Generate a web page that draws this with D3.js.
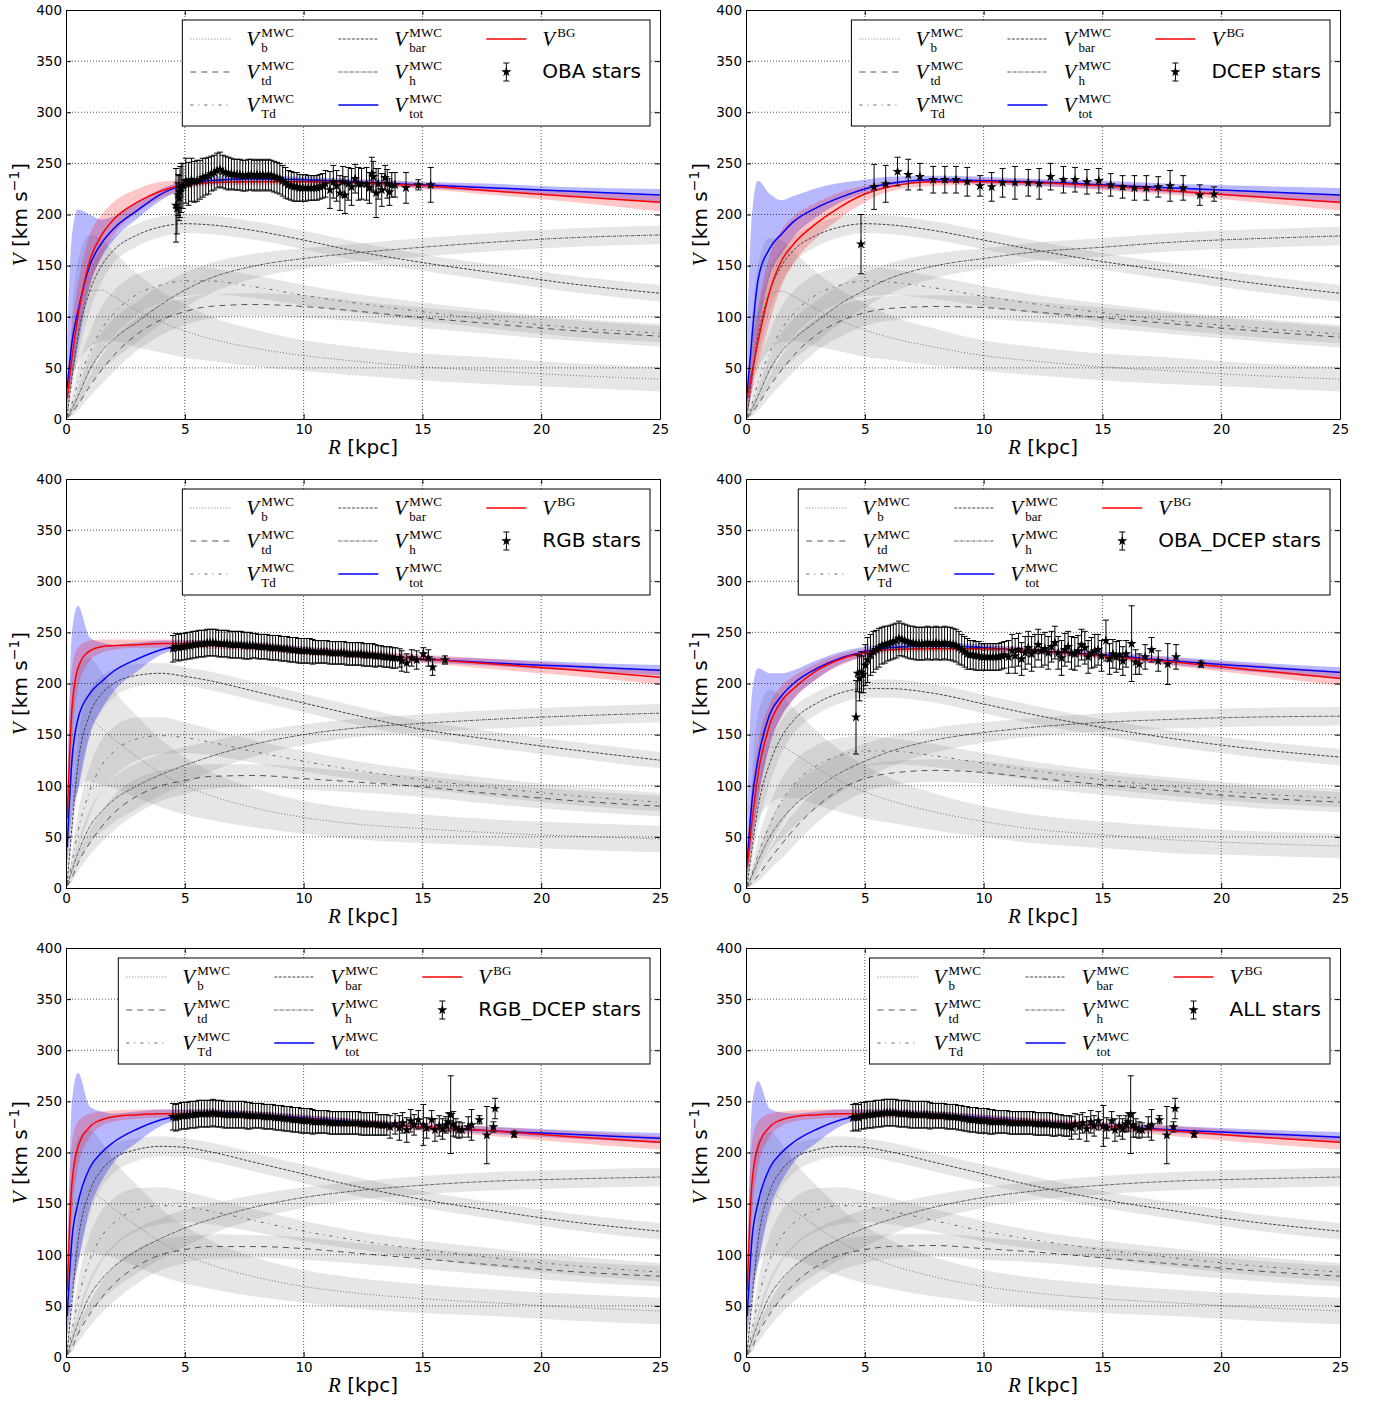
<!DOCTYPE html>
<html>
<head>
<meta charset="utf-8">
<script src="https://cdn.jsdelivr.net/npm/d3@7"></script>
<style>
  body { margin: 0; background: #fff; }
  svg { display: block; }
</style>
</head>
<body>
<svg id="fig" width="1376" height="1401"></svg>
<script>
// ---------------------------------------------------------------
// Rotation-curve decomposition for six tracer samples
// ---------------------------------------------------------------
const PANEL_LABELS = ["OBA stars", "DCEP stars", "RGB stars", "OBA_DCEP stars", "RGB_DCEP stars", "ALL stars"];

const X_TICKS = [0, 5, 10, 15, 20, 25];
const Y_TICKS = [0, 50, 100, 150, 200, 250, 300, 350, 400];

// Galactocentric radii (kpc) at which the model curves are tabulated
const R_GRID = [0.05, 0.25, 0.5, 1, 1.5, 2, 3, 4, 5, 6, 8, 10, 12, 15, 18, 21, 25];

// Model components (km/s), one row per sample in PANEL_LABELS order
const V_b = [
  [8, 70, 105, 125, 126, 120, 106, 95, 86, 79, 69, 62, 57, 51, 47, 43, 39],
  [8, 65, 100, 122, 125, 120, 107, 96, 87, 80, 70, 62, 57, 51, 47, 43, 39],
  [30, 120, 158, 165, 156, 146, 128, 112, 100, 91, 78, 69, 63, 58, 54, 51, 48],
  [10, 80, 118, 138, 138, 132, 117, 104, 94, 86, 74, 65, 58, 52, 47, 44, 41],
  [25, 115, 155, 162, 155, 145, 128, 112, 100, 91, 78, 69, 63, 57, 53, 49, 45],
  [25, 112, 152, 160, 154, 144, 127, 112, 100, 91, 78, 69, 63, 57, 53, 49, 45]
];
const V_b_err = [
  [4, 30, 50, 55, 50, 44, 36, 30, 26, 22, 18, 15, 14, 13, 13, 12, 12],
  [4, 30, 50, 55, 50, 44, 36, 30, 26, 22, 18, 15, 14, 13, 13, 12, 12],
  [10, 50, 60, 60, 55, 48, 40, 33, 28, 24, 19, 16, 15, 14, 13, 13, 13],
  [5, 32, 52, 56, 50, 44, 36, 30, 26, 22, 18, 15, 14, 13, 13, 12, 12],
  [10, 50, 60, 60, 55, 48, 40, 33, 28, 24, 19, 16, 15, 14, 13, 13, 13],
  [10, 50, 60, 60, 55, 48, 40, 33, 28, 24, 19, 16, 15, 14, 13, 13, 13]
];

const V_td = [
  [1, 6, 14, 32, 48, 62, 83, 97, 105, 110, 112, 110, 106, 99, 93, 87, 81],
  [1, 6, 14, 32, 48, 62, 83, 96, 104, 108, 110, 109, 105, 99, 93, 87, 80],
  [2, 10, 24, 44, 60, 73, 90, 100, 105, 109, 110, 107, 104, 99, 92, 86, 80],
  [1, 5, 12, 28, 43, 57, 80, 97, 107, 112, 115, 113, 108, 101, 95, 89, 84],
  [2, 9, 22, 42, 58, 71, 89, 100, 105, 108, 108, 106, 102, 96, 90, 84, 79],
  [2, 9, 22, 42, 58, 71, 89, 100, 105, 108, 109, 106, 103, 97, 91, 85, 79]
];
const V_td_err = [
  [1, 3, 6, 10, 14, 16, 16, 15, 13, 12, 11, 11, 10, 10, 10, 10, 10],
  [1, 3, 6, 10, 14, 16, 16, 15, 13, 12, 11, 11, 10, 10, 10, 10, 10],
  [1, 4, 8, 12, 15, 17, 17, 15, 13, 12, 11, 11, 10, 10, 10, 10, 10],
  [1, 3, 6, 10, 14, 16, 16, 15, 13, 12, 11, 11, 10, 10, 10, 10, 10],
  [1, 4, 8, 12, 15, 17, 17, 15, 13, 12, 11, 11, 10, 10, 10, 10, 10],
  [1, 4, 8, 12, 15, 17, 17, 15, 13, 12, 11, 11, 10, 10, 10, 10, 10]
];

const V_Td = [
  [2, 15, 35, 65, 88, 103, 122, 131, 135, 135, 129, 121, 114, 105, 97, 90, 84],
  [2, 15, 35, 65, 88, 103, 122, 131, 135, 134, 128, 120, 113, 104, 96, 90, 83],
  [3, 25, 55, 95, 120, 133, 146, 149, 147, 143, 133, 124, 116, 106, 98, 91, 84],
  [2, 14, 32, 62, 85, 101, 120, 130, 134, 134, 129, 122, 115, 106, 99, 93, 88],
  [3, 25, 55, 95, 118, 131, 144, 148, 147, 143, 133, 123, 115, 105, 97, 90, 83],
  [3, 25, 55, 95, 118, 131, 144, 148, 147, 143, 133, 123, 115, 105, 97, 90, 83]
];
const V_Td_err = [
  [1, 8, 15, 20, 22, 22, 20, 17, 15, 13, 11, 10, 9, 9, 9, 9, 9],
  [1, 8, 15, 20, 22, 22, 20, 17, 15, 13, 11, 10, 9, 9, 9, 9, 9],
  [1, 10, 18, 24, 25, 24, 21, 18, 15, 13, 11, 10, 9, 9, 9, 9, 9],
  [1, 8, 15, 20, 22, 22, 20, 17, 15, 13, 11, 10, 9, 9, 9, 9, 9],
  [1, 10, 18, 24, 25, 24, 21, 18, 15, 13, 11, 10, 9, 9, 9, 9, 9],
  [1, 10, 18, 24, 25, 24, 21, 18, 15, 13, 11, 10, 9, 9, 9, 9, 9]
];

const V_bar = [
  [3, 40, 80, 125, 150, 165, 180, 188, 191, 190, 184, 175, 165, 153, 143, 133, 123],
  [3, 40, 80, 125, 150, 165, 180, 188, 191, 190, 184, 175, 166, 154, 144, 134, 123],
  [5, 60, 120, 170, 190, 200, 208, 210, 207, 203, 192, 181, 170, 155, 145, 136, 125],
  [3, 38, 78, 122, 148, 164, 181, 191, 195, 195, 190, 180, 170, 157, 146, 137, 128],
  [5, 55, 112, 162, 183, 194, 203, 206, 205, 201, 190, 179, 168, 154, 143, 133, 123],
  [5, 55, 112, 162, 183, 194, 203, 206, 205, 201, 190, 179, 168, 154, 143, 133, 123]
];
const V_bar_err = [
  [2, 12, 20, 20, 16, 13, 11, 10, 9, 9, 9, 9, 9, 8, 8, 8, 8],
  [2, 12, 20, 20, 16, 13, 11, 10, 9, 9, 9, 9, 9, 8, 8, 8, 8],
  [2, 15, 24, 22, 17, 14, 11, 10, 9, 9, 9, 9, 9, 8, 8, 8, 8],
  [2, 12, 20, 20, 16, 13, 11, 10, 9, 9, 9, 9, 9, 8, 8, 8, 8],
  [2, 15, 24, 22, 17, 14, 11, 10, 9, 9, 9, 9, 9, 8, 8, 8, 8],
  [2, 15, 24, 22, 17, 14, 11, 10, 9, 9, 9, 9, 9, 8, 8, 8, 8]
];

const V_h = [
  [2, 10, 22, 48, 66, 78, 95, 112, 126, 137, 150, 157, 162, 168, 173, 177, 180],
  [2, 10, 22, 48, 66, 78, 96, 113, 126, 137, 150, 157, 163, 168, 173, 176, 179],
  [3, 17, 34, 60, 75, 86, 100, 111, 120, 128, 141, 150, 156, 161, 165, 168, 171],
  [2, 12, 26, 50, 67, 80, 98, 113, 124, 133, 145, 152, 157, 162, 165, 167, 168],
  [3, 16, 33, 60, 76, 88, 104, 116, 126, 134, 147, 156, 162, 168, 172, 174, 176],
  [3, 16, 33, 60, 76, 88, 104, 116, 126, 134, 147, 156, 162, 168, 172, 174, 176]
];
const V_h_err = [
  [1, 4, 8, 14, 18, 20, 20, 19, 17, 15, 12, 10, 9, 9, 9, 9, 9],
  [1, 4, 8, 14, 18, 20, 20, 19, 17, 15, 12, 10, 9, 9, 9, 9, 9],
  [1, 5, 10, 16, 20, 22, 22, 20, 18, 15, 12, 10, 9, 9, 9, 9, 9],
  [1, 4, 8, 14, 18, 20, 20, 19, 17, 15, 12, 10, 9, 9, 9, 9, 9],
  [1, 5, 10, 16, 20, 22, 22, 20, 18, 15, 12, 10, 9, 9, 9, 9, 9],
  [1, 5, 10, 16, 20, 22, 22, 20, 18, 15, 12, 10, 9, 9, 9, 9, 9]
];

// Total model curve and its confidence envelope
const V_tot = [
  [30, 75, 105, 150, 172, 186, 204, 220, 229, 233, 235, 234, 232, 229, 226, 223, 219],
  [25, 80, 135, 167, 181, 193, 207, 217, 225, 230, 234, 233, 232, 229, 226, 223, 219],
  [40, 125, 165, 190, 202, 212, 224, 233, 238, 239, 237, 233, 229, 224, 220, 217, 213],
  [25, 85, 125, 170, 188, 200, 215, 225, 231, 235, 237, 235, 232, 228, 222, 217, 211],
  [40, 115, 150, 185, 200, 210, 223, 232, 237, 239, 237, 234, 230, 225, 221, 218, 214],
  [40, 115, 150, 185, 200, 210, 223, 232, 237, 239, 237, 234, 230, 226, 222, 219, 215]
];
const V_tot_lo = [
  [15, 40, 70, 130, 158, 175, 196, 214, 225, 230, 232, 231, 229, 226, 222, 218, 212],
  [5, 30, 80, 140, 162, 178, 198, 212, 221, 227, 231, 230, 228, 225, 221, 217, 211],
  [20, 70, 95, 150, 175, 192, 212, 228, 235, 236, 234, 230, 226, 221, 217, 213, 208],
  [10, 45, 85, 140, 168, 185, 205, 219, 227, 232, 234, 232, 229, 225, 218, 212, 205],
  [20, 60, 90, 145, 172, 190, 210, 226, 233, 236, 234, 231, 227, 222, 218, 214, 209],
  [20, 60, 90, 145, 172, 190, 210, 226, 233, 236, 234, 231, 227, 223, 219, 215, 210]
];
const V_tot_hi = [
  [80, 180, 205, 200, 195, 198, 212, 225, 233, 237, 238, 237, 235, 232, 230, 227, 225],
  [90, 200, 233, 220, 214, 218, 226, 231, 234, 237, 238, 237, 235, 233, 230, 228, 226],
  [70, 250, 276, 245, 240, 238, 240, 242, 242, 242, 240, 236, 232, 227, 224, 221, 218],
  [80, 190, 215, 210, 210, 213, 223, 231, 236, 239, 240, 238, 235, 231, 226, 221, 216],
  [70, 250, 278, 245, 240, 238, 240, 242, 242, 242, 240, 237, 233, 228, 225, 222, 219],
  [70, 245, 270, 243, 239, 238, 240, 242, 242, 242, 240, 237, 233, 229, 226, 223, 220]
];

// Fitted rotation curve and its confidence envelope
const V_BG = [
  [20, 60, 100, 155, 180, 195, 212, 223, 229, 231, 232, 232, 231, 228, 223, 218, 212],
  [20, 45, 75, 125, 155, 171, 192, 208, 220, 227, 232, 232, 231, 228, 223, 218, 212],
  [68, 175, 215, 232, 236, 237, 238, 239, 239, 238, 236, 232, 229, 224, 219, 214, 206],
  [20, 65, 110, 160, 183, 195, 213, 224, 230, 233, 234, 234, 232, 227, 221, 214, 205],
  [65, 170, 205, 225, 232, 235, 237, 238, 238, 238, 236, 233, 229, 225, 221, 216, 210],
  [65, 170, 205, 225, 232, 235, 237, 238, 238, 238, 236, 233, 230, 226, 221, 216, 210]
];
const V_BG_lo = [
  [10, 40, 80, 130, 160, 180, 202, 216, 225, 228, 229, 229, 228, 225, 219, 213, 203],
  [5, 25, 50, 95, 130, 152, 178, 197, 212, 222, 228, 229, 228, 224, 219, 213, 204],
  [40, 140, 195, 222, 230, 233, 235, 235, 235, 234, 232, 228, 225, 220, 214, 208, 199],
  [8, 40, 85, 140, 168, 184, 205, 218, 226, 230, 231, 231, 229, 224, 217, 209, 198],
  [40, 135, 185, 215, 226, 230, 233, 234, 234, 234, 232, 229, 225, 221, 216, 210, 203],
  [40, 135, 185, 215, 226, 230, 233, 234, 234, 234, 232, 229, 226, 222, 216, 210, 203]
];
const V_BG_hi = [
  [35, 90, 130, 180, 200, 212, 225, 232, 234, 235, 235, 235, 234, 231, 227, 223, 218],
  [40, 75, 110, 160, 185, 198, 212, 222, 228, 232, 235, 235, 234, 231, 227, 223, 219],
  [100, 215, 235, 242, 243, 243, 243, 243, 243, 242, 240, 236, 233, 228, 224, 219, 213],
  [40, 95, 140, 180, 198, 207, 220, 229, 234, 236, 237, 237, 235, 230, 225, 219, 212],
  [100, 210, 230, 238, 240, 241, 242, 242, 242, 242, 240, 237, 233, 229, 225, 221, 216],
  [100, 210, 230, 238, 240, 241, 242, 242, 242, 242, 240, 237, 234, 230, 226, 221, 216]
];

// Binned tracer measurements: [R (kpc), V (km/s), sigma_V (km/s)]
const OBA_POINTS = [
  [4.63, 209, 36], [4.67, 206, 25], [4.72, 219, 20], [4.76, 216, 22], [4.80, 222, 25], [4.85, 226, 24],
  [4.92, 228, 22], [5.04, 233, 22], [5.16, 230, 21], [5.28, 234, 21], [5.40, 232, 20], [5.52, 233, 20],
  [5.64, 234, 19], [5.76, 236, 19], [5.88, 237, 18], [6.00, 238, 18], [6.12, 240, 17], [6.24, 241, 17],
  [6.36, 243, 17], [6.48, 244, 17], [6.60, 242, 16], [6.72, 241, 16], [6.84, 240, 16], [6.96, 240, 15],
  [7.08, 239, 15], [7.20, 239, 15], [7.32, 239, 15], [7.44, 238, 15], [7.56, 238, 15], [7.68, 239, 15],
  [7.80, 239, 15], [7.92, 238, 15], [8.04, 239, 15], [8.16, 238, 15], [8.28, 239, 15], [8.40, 238, 15],
  [8.52, 239, 15], [8.64, 238, 15], [8.76, 237, 15], [8.88, 236, 15], [9.00, 235, 15], [9.12, 233, 15],
  [9.24, 231, 15], [9.36, 229, 14], [9.48, 228, 14], [9.60, 227, 14], [9.72, 227, 14], [9.84, 226, 13],
  [9.96, 226, 13], [10.08, 226, 13], [10.20, 226, 12], [10.32, 226, 12], [10.44, 226, 12], [10.56, 226, 12],
  [10.68, 227, 12], [10.80, 228, 12], [10.92, 230, 13],
  [11.11, 224, 18], [11.25, 232, 16], [11.39, 228, 15], [11.53, 221, 17], [11.65, 232, 15], [11.74, 219, 18],
  [11.88, 230, 16], [12.02, 227, 18], [12.17, 235, 14], [12.31, 230, 16], [12.44, 230, 15], [12.65, 230, 16],
  [12.77, 226, 15], [12.87, 240, 16], [12.93, 237, 15], [13.05, 221, 24], [13.14, 230, 15], [13.29, 224, 16],
  [13.43, 236, 12], [13.52, 230, 14], [13.61, 222, 13], [13.71, 229, 12], [13.85, 229, 12], [14.31, 226, 15],
  [14.83, 229, 5], [15.35, 229, 17]
];

const DCEP_POINTS = [
  [4.84, 171, 29], [5.39, 227, 22], [5.88, 230, 18], [6.38, 242, 14], [6.83, 239, 15], [7.32, 237, 13],
  [7.88, 234, 13], [8.37, 234, 13], [8.84, 234, 13], [9.31, 232, 14], [9.85, 228, 10], [10.34, 227, 14],
  [10.80, 231, 14], [11.32, 231, 16], [11.88, 231, 13], [12.34, 230, 15], [12.82, 237, 13], [13.36, 234, 13],
  [13.85, 234, 12], [14.35, 232, 12], [14.85, 233, 12], [15.35, 229, 11], [15.85, 227, 11], [16.35, 226, 12],
  [16.85, 226, 12], [17.35, 227, 10], [17.85, 228, 15], [18.40, 226, 12], [19.10, 219, 10], [19.70, 220, 7]
];

const RGB_POINTS = [
  [4.50, 234, 13], [4.62, 236, 13], [4.74, 235, 13], [4.86, 236, 13], [4.98, 236, 13], [5.10, 237, 13],
  [5.22, 237, 13], [5.34, 238, 13], [5.46, 238, 13], [5.58, 239, 13], [5.70, 239, 13], [5.82, 239, 13],
  [5.94, 240, 13], [6.06, 240, 13], [6.18, 240, 13], [6.30, 240, 13], [6.42, 239, 13], [6.54, 239, 13],
  [6.66, 239, 13], [6.78, 239, 13], [6.90, 238, 13], [7.02, 238, 13], [7.14, 238, 13], [7.26, 238, 13],
  [7.38, 238, 13], [7.50, 237, 13], [7.62, 237, 13], [7.74, 237, 13], [7.86, 237, 12], [7.98, 237, 12],
  [8.10, 236, 12], [8.22, 236, 12], [8.34, 236, 12], [8.46, 236, 12], [8.58, 235, 12], [8.70, 235, 12],
  [8.82, 235, 12], [8.94, 235, 12], [9.06, 234, 12], [9.18, 234, 12], [9.30, 234, 12], [9.42, 233, 12],
  [9.54, 233, 12], [9.66, 233, 12], [9.78, 232, 12], [9.90, 232, 12], [10.02, 232, 12], [10.14, 232, 12],
  [10.26, 232, 12], [10.38, 231, 12], [10.50, 231, 11], [10.62, 231, 11], [10.74, 231, 11], [10.86, 231, 11],
  [10.98, 231, 11], [11.10, 230, 11], [11.22, 230, 11], [11.34, 230, 11], [11.46, 230, 11], [11.58, 230, 11],
  [11.70, 230, 11], [11.82, 229, 11], [11.94, 229, 11], [12.06, 229, 11], [12.18, 229, 11], [12.30, 229, 11],
  [12.42, 229, 11], [12.54, 228, 11], [12.66, 228, 11], [12.78, 228, 11], [12.90, 228, 11], [13.02, 227, 11],
  [13.14, 227, 10], [13.26, 227, 10], [13.38, 226, 10], [13.50, 226, 10], [13.62, 226, 10], [13.74, 225, 10],
  [13.86, 225, 10],
  [14.05, 225, 9], [14.13, 222, 10], [14.34, 220, 9], [14.55, 225, 8], [14.76, 223, 9], [15.04, 229, 6],
  [15.25, 225, 8], [15.43, 216, 8], [15.95, 223, 4]
];

const OBA_DCEP_POINTS = [
  [4.63, 167, 36], [4.70, 210, 18], [4.78, 205, 22], [4.86, 211, 20], [4.94, 209, 18], [5.02, 218, 20],
  [5.12, 223, 22],
  [5.24, 228, 20], [5.36, 231, 20], [5.48, 233, 19], [5.60, 235, 19], [5.72, 237, 18], [5.84, 238, 18],
  [5.96, 239, 17], [6.08, 240, 17], [6.20, 241, 17], [6.32, 242, 17], [6.44, 244, 17], [6.56, 243, 16],
  [6.68, 242, 16], [6.80, 241, 16], [6.92, 240, 16], [7.04, 240, 16], [7.16, 239, 16], [7.28, 239, 16],
  [7.40, 239, 16], [7.52, 239, 16], [7.64, 240, 16], [7.76, 239, 16], [7.88, 239, 16], [8.00, 240, 16],
  [8.12, 239, 16], [8.24, 239, 16], [8.36, 240, 16], [8.48, 239, 16], [8.60, 239, 16], [8.72, 238, 16],
  [8.84, 237, 16], [8.96, 235, 16], [9.08, 233, 15], [9.20, 231, 15], [9.32, 229, 15], [9.44, 228, 14],
  [9.56, 228, 14], [9.68, 227, 14], [9.80, 227, 14], [9.92, 226, 13], [10.04, 226, 13], [10.16, 226, 13],
  [10.28, 226, 13], [10.40, 226, 13], [10.52, 226, 13], [10.64, 226, 13], [10.76, 227, 13], [10.88, 228, 13],
  [11.05, 226, 16], [11.20, 232, 16], [11.33, 227, 17], [11.47, 233, 16], [11.60, 224, 16], [11.75, 230, 16],
  [11.88, 235, 16], [12.02, 229, 17], [12.16, 232, 16], [12.30, 238, 15], [12.44, 232, 16], [12.58, 234, 16],
  [12.72, 230, 16], [12.86, 236, 15], [13.00, 240, 16], [13.14, 230, 16], [13.28, 225, 17], [13.42, 233, 16],
  [13.56, 236, 15], [13.70, 230, 16], [13.84, 229, 16], [13.98, 232, 15], [14.12, 238, 15], [14.26, 235, 16],
  [14.40, 226, 16], [14.54, 230, 15], [14.68, 232, 16], [14.82, 233, 15], [14.96, 227, 15], [15.15, 242, 20],
  [15.30, 224, 15], [15.44, 229, 14], [15.58, 226, 15], [15.72, 228, 14], [15.86, 222, 14], [16.00, 229, 13],
  [16.23, 239, 37], [16.40, 221, 12], [16.55, 219, 10], [16.80, 226, 12], [17.07, 233, 12], [17.35, 222, 10],
  [17.75, 219, 20], [18.10, 226, 12], [19.15, 219, 3]
];

const RGB_DCEP_POINTS = [
  [4.50, 235, 13], [4.62, 234, 13], [4.74, 235, 13], [4.86, 236, 13], [4.98, 236, 13], [5.10, 236, 13],
  [5.22, 237, 13], [5.34, 237, 13], [5.46, 237, 13], [5.58, 238, 13], [5.70, 238, 13], [5.82, 238, 13],
  [5.94, 238, 13], [6.06, 238, 13], [6.18, 239, 13], [6.30, 238, 13], [6.42, 238, 13], [6.54, 238, 13],
  [6.66, 237, 13], [6.78, 237, 13], [6.90, 237, 13], [7.02, 237, 13], [7.14, 237, 13], [7.26, 237, 13],
  [7.38, 237, 13], [7.50, 237, 13], [7.62, 236, 13], [7.74, 236, 13], [7.86, 236, 12], [7.98, 236, 12],
  [8.10, 236, 12], [8.22, 236, 12], [8.34, 235, 12], [8.46, 235, 12], [8.58, 235, 12], [8.70, 235, 12],
  [8.82, 234, 12], [8.94, 234, 12], [9.06, 234, 12], [9.18, 233, 12], [9.30, 233, 12], [9.42, 233, 12],
  [9.54, 232, 12], [9.66, 232, 12], [9.78, 232, 12], [9.90, 231, 12], [10.02, 231, 12], [10.14, 231, 12],
  [10.26, 231, 12], [10.38, 230, 12], [10.50, 230, 11], [10.62, 230, 11], [10.74, 230, 11], [10.86, 230, 11],
  [10.98, 230, 11], [11.10, 229, 11], [11.22, 229, 11], [11.34, 229, 11], [11.46, 229, 11], [11.58, 229, 11],
  [11.70, 229, 11], [11.82, 229, 11], [11.94, 229, 11], [12.06, 229, 11], [12.18, 229, 11], [12.30, 229, 11],
  [12.42, 228, 11], [12.54, 228, 11], [12.66, 228, 11], [12.78, 228, 11], [12.90, 228, 11], [13.02, 228, 11],
  [13.14, 227, 10], [13.26, 227, 10], [13.38, 227, 10], [13.50, 227, 10],
  [13.64, 225, 11], [13.85, 228, 10], [14.03, 224, 12], [14.17, 229, 10], [14.34, 222, 12], [14.51, 231, 11],
  [14.65, 227, 10], [14.83, 232, 9], [15.04, 227, 20], [15.18, 224, 10], [15.39, 232, 9], [15.53, 222, 11],
  [15.71, 226, 10], [15.85, 223, 10], [15.99, 227, 8], [16.09, 230, 9], [16.19, 237, 38], [16.30, 228, 12],
  [16.41, 224, 9], [16.54, 222, 8], [16.67, 222, 7], [16.93, 225, 10], [17.07, 227, 15], [17.40, 232, 4],
  [17.71, 217, 28], [17.99, 225, 5], [18.06, 243, 10], [18.86, 218, 3]
];

const ALL_POINTS = [
  [4.50, 234, 13], [4.62, 235, 13], [4.74, 234, 13], [4.86, 236, 13], [4.98, 236, 13], [5.10, 237, 13],
  [5.22, 237, 13], [5.34, 237, 13], [5.46, 238, 13], [5.58, 238, 13], [5.70, 238, 13], [5.82, 239, 13],
  [5.94, 239, 13], [6.06, 239, 13], [6.18, 239, 13], [6.30, 239, 13], [6.42, 238, 13], [6.54, 238, 13],
  [6.66, 238, 13], [6.78, 238, 13], [6.90, 237, 13], [7.02, 237, 13], [7.14, 237, 13], [7.26, 237, 13],
  [7.38, 237, 13], [7.50, 237, 13], [7.62, 237, 13], [7.74, 236, 13], [7.86, 236, 12], [7.98, 236, 12],
  [8.10, 236, 12], [8.22, 236, 12], [8.34, 236, 12], [8.46, 235, 12], [8.58, 235, 12], [8.70, 235, 12],
  [8.82, 235, 12], [8.94, 234, 12], [9.06, 234, 12], [9.18, 233, 12], [9.30, 233, 12], [9.42, 232, 12],
  [9.54, 232, 12], [9.66, 232, 12], [9.78, 231, 12], [9.90, 231, 12], [10.02, 231, 12], [10.14, 231, 12],
  [10.26, 230, 12], [10.38, 230, 12], [10.50, 230, 11], [10.62, 230, 11], [10.74, 230, 11], [10.86, 230, 11],
  [10.98, 230, 11], [11.10, 229, 11], [11.22, 229, 11], [11.34, 229, 11], [11.46, 229, 11], [11.58, 229, 11],
  [11.70, 229, 11], [11.82, 229, 11], [11.94, 229, 11], [12.06, 229, 11], [12.18, 228, 11], [12.30, 228, 11],
  [12.42, 228, 11], [12.54, 228, 11], [12.66, 228, 11], [12.78, 228, 11], [12.90, 227, 11], [13.02, 227, 11],
  [13.14, 227, 10], [13.26, 227, 10], [13.38, 226, 10], [13.50, 226, 10], [13.62, 226, 10],
  [13.70, 224, 11], [13.85, 228, 10], [14.03, 225, 12], [14.17, 229, 10], [14.34, 223, 12], [14.51, 230, 11],
  [14.65, 226, 10], [14.83, 231, 9], [15.04, 226, 20], [15.18, 224, 10], [15.39, 231, 9], [15.53, 222, 11],
  [15.71, 226, 10], [15.85, 223, 10], [15.99, 228, 8], [16.09, 230, 9], [16.19, 237, 38], [16.30, 227, 12],
  [16.41, 224, 9], [16.54, 222, 8], [16.67, 222, 7], [16.93, 225, 10], [17.07, 227, 15], [17.40, 232, 4],
  [17.71, 217, 28], [17.99, 225, 5], [18.06, 243, 10], [18.86, 218, 3]
];

const POINT_SETS = [OBA_POINTS, DCEP_POINTS, RGB_POINTS, OBA_DCEP_POINTS, RGB_DCEP_POINTS, ALL_POINTS];

// ---------------------------------------------------------------
// Layout and styles
// ---------------------------------------------------------------
const COL_LEFT = [66, 746];
const ROW_TOP = [10, 479, 948];
const PW = 594, PH = 409;
const SANS = "'DejaVu Sans', sans-serif";
const SERIF = "'Liberation Serif', 'DejaVu Serif', serif";

const COMPONENTS = [
  { key: "b",   mean: V_b,   err: V_b_err,   dash: "1,2",     color: "#777777", sub: "b" },
  { key: "td",  mean: V_td,  err: V_td_err,  dash: "6,5",     color: "#555555", sub: "td" },
  { key: "Td",  mean: V_Td,  err: V_Td_err,  dash: "3,5,1,5", color: "#666666", sub: "Td" },
  { key: "bar", mean: V_bar, err: V_bar_err, dash: "3,1.5",   color: "#444444", sub: "bar" },
  { key: "h",   mean: V_h,   err: V_h_err,   dash: "3,1,1,1", color: "#555555", sub: "h" }
];

const svg = d3.select("#fig");
const defs = svg.append("defs");
const star = d3.symbol().type(d3.symbolStar).size(32);

// italic V with a roman superscript and an optional subscript stacked below it
function mathV(g, x, yLine, sup, sub) {
  g.append("text").attr("x", x).attr("y", yLine + 7)
    .attr("font-family", SERIF).attr("font-style", "italic").attr("font-size", 21).text("V");
  g.append("text").attr("x", x + 15).attr("y", yLine - 2)
    .attr("font-family", SERIF).attr("font-size", 13).text(sup);
  if (sub) {
    g.append("text").attr("x", x + 15).attr("y", yLine + 12.6)
      .attr("font-family", SERIF).attr("font-size", 13).text(sub);
  }
}

function drawPanel(i) {
  const left = COL_LEFT[i % 2], top = ROW_TOP[Math.floor(i / 2)];
  const x = d3.scaleLinear().domain([0, 25]).range([left, left + PW]);
  const y = d3.scaleLinear().domain([0, 400]).range([top + PH, top]);

  const clipId = "clip" + i;
  defs.append("clipPath").attr("id", clipId)
    .append("rect").attr("x", left).attr("y", top).attr("width", PW).attr("height", PH);

  const g = svg.append("g");
  const plot = g.append("g").attr("clip-path", `url(#${clipId})`);

  const band = d3.area().x(d => x(d.r)).y0(d => y(d.lo)).y1(d => y(d.hi)).curve(d3.curveMonotoneX);
  const line = d3.line().x(d => x(d.r)).y(d => y(d.v)).curve(d3.curveMonotoneX);

  // grey component envelopes
  COMPONENTS.forEach(c => {
    const m = c.mean[i], e = c.err[i];
    const pts = R_GRID.map((r, k) => ({ r, lo: Math.max(0, m[k] - e[k]), hi: m[k] + e[k] }));
    plot.append("path").datum(pts).attr("d", band)
      .attr("fill", "#808080").attr("fill-opacity", 0.2).attr("stroke", "none");
  });

  // total-model and fitted-curve envelopes
  const totBand = R_GRID.map((r, k) => ({ r, lo: V_tot_lo[i][k], hi: V_tot_hi[i][k] }));
  const bgBand = R_GRID.map((r, k) => ({ r, lo: V_BG_lo[i][k], hi: V_BG_hi[i][k] }));
  plot.append("path").datum(totBand).attr("d", band).attr("fill", "#0000ff").attr("fill-opacity", 0.28);
  plot.append("path").datum(bgBand).attr("d", band).attr("fill", "#ff0000").attr("fill-opacity", 0.22);

  // grid
  const grid = g.append("g").attr("stroke", "#000").attr("stroke-width", 0.8)
    .attr("stroke-dasharray", "1,2").attr("stroke-opacity", 0.85);
  X_TICKS.slice(1, -1).forEach(t => {
    grid.append("line").attr("x1", x(t)).attr("x2", x(t)).attr("y1", top).attr("y2", top + PH);
  });
  Y_TICKS.slice(1, -1).forEach(t => {
    grid.append("line").attr("x1", left).attr("x2", left + PW).attr("y1", y(t)).attr("y2", y(t));
  });

  // component curves
  COMPONENTS.forEach(c => {
    const pts = R_GRID.map((r, k) => ({ r, v: c.mean[i][k] }));
    plot.append("path").datum(pts).attr("d", line).attr("fill", "none")
      .attr("stroke", c.color).attr("stroke-width", 1).attr("stroke-dasharray", c.dash);
  });
  plot.append("path").datum(R_GRID.map((r, k) => ({ r, v: V_tot[i][k] })))
    .attr("d", line).attr("fill", "none").attr("stroke", "#0000ff").attr("stroke-width", 1.5);
  plot.append("path").datum(R_GRID.map((r, k) => ({ r, v: V_BG[i][k] })))
    .attr("d", line).attr("fill", "none").attr("stroke", "#ff0000").attr("stroke-width", 1.5);

  // measurements with error bars
  const pts = POINT_SETS[i];
  const eb = g.append("g").attr("stroke", "#000").attr("stroke-width", 1);
  pts.forEach(([r, v, e]) => {
    const px = x(r), y0 = y(v - e), y1 = y(v + e);
    eb.append("line").attr("x1", px).attr("x2", px).attr("y1", y0).attr("y2", y1);
    eb.append("line").attr("x1", px - 3).attr("x2", px + 3).attr("y1", y0).attr("y2", y0);
    eb.append("line").attr("x1", px - 3).attr("x2", px + 3).attr("y1", y1).attr("y2", y1);
  });
  g.append("g").selectAll("path").data(pts).join("path")
    .attr("d", star).attr("transform", d => `translate(${x(d[0])},${y(d[1])})`)
    .attr("fill", "#000");

  // axes with inward ticks on all four sides
  const fmt = d3.format("d");
  g.append("g").attr("transform", `translate(0,${top + PH})`)
    .call(d3.axisBottom(x).tickValues(X_TICKS).tickSize(-5).tickSizeOuter(0).tickPadding(5).tickFormat(fmt));
  g.append("g").attr("transform", `translate(${left},0)`)
    .call(d3.axisLeft(y).tickValues(Y_TICKS).tickSize(-5).tickSizeOuter(0).tickPadding(4).tickFormat(fmt));
  g.append("g").attr("transform", `translate(0,${top})`)
    .call(d3.axisTop(x).tickValues(X_TICKS).tickSize(-5).tickSizeOuter(0).tickFormat(""));
  g.append("g").attr("transform", `translate(${left + PW},0)`)
    .call(d3.axisRight(y).tickValues(Y_TICKS).tickSize(-5).tickSizeOuter(0).tickFormat(""));
  g.selectAll(".tick text").attr("font-family", SANS).attr("font-size", 13.5).attr("fill", "#000");
  g.selectAll(".domain").attr("stroke", "#000");
  g.selectAll(".tick line").attr("stroke", "#000");

  // axis titles
  const xl = g.append("text").attr("x", left + PW / 2).attr("y", top + PH + 35)
    .attr("text-anchor", "middle").attr("font-family", SANS).attr("font-size", 20);
  xl.append("tspan").attr("font-family", SERIF).attr("font-style", "italic").attr("font-size", 21).text("R");
  xl.append("tspan").text(" [kpc]");

  const yl = g.append("text")
    .attr("transform", `translate(${left - 39},${top + PH / 2}) rotate(-90)`)
    .attr("text-anchor", "middle").attr("font-family", SANS).attr("font-size", 20);
  yl.append("tspan").attr("font-family", SERIF).attr("font-style", "italic").attr("font-size", 21).text("V");
  yl.append("tspan").text(" [km s");
  yl.append("tspan").attr("font-size", 14).attr("dy", -8).text("\u22121");
  yl.append("tspan").attr("dy", 8).text("]");

  // legend
  const lg = g.append("g");
  const probe = lg.append("text").attr("font-family", SANS).attr("font-size", 20).text(PANEL_LABELS[i]);
  const tw = probe.node().getComputedTextLength();
  const W = 8 + 2 * 148 + 56 + tw + 9, H = 106;
  const bx = left + PW - 10 - W, by = top + 10;
  lg.insert("rect", ":first-child").attr("x", bx).attr("y", by).attr("width", W).attr("height", H)
    .attr("fill", "#fff").attr("stroke", "#000").attr("stroke-width", 1);
  const rows = [by + 19, by + 52, by + 85];
  const colX = [bx + 8, bx + 156, bx + 304];

  const entries = [
    { col: 0, row: 0, comp: COMPONENTS[0] },
    { col: 0, row: 1, comp: COMPONENTS[1] },
    { col: 0, row: 2, comp: COMPONENTS[2] },
    { col: 1, row: 0, comp: COMPONENTS[3] },
    { col: 1, row: 1, comp: COMPONENTS[4] }
  ];
  entries.forEach(en => {
    const lx = colX[en.col], ly = rows[en.row];
    lg.append("line").attr("x1", lx).attr("x2", lx + 40).attr("y1", ly).attr("y2", ly)
      .attr("stroke", en.comp.color).attr("stroke-width", 1).attr("stroke-dasharray", en.comp.dash);
    mathV(lg, lx + 56, ly, "MWC", en.comp.sub);
  });
  // total model
  lg.append("line").attr("x1", colX[1]).attr("x2", colX[1] + 40).attr("y1", rows[2]).attr("y2", rows[2])
    .attr("stroke", "#0000ff").attr("stroke-width", 1.5);
  mathV(lg, colX[1] + 56, rows[2], "MWC", "tot");
  // fitted curve
  lg.append("line").attr("x1", colX[2]).attr("x2", colX[2] + 40).attr("y1", rows[0]).attr("y2", rows[0])
    .attr("stroke", "#ff0000").attr("stroke-width", 1.5);
  mathV(lg, colX[2] + 56, rows[0], "BG", null);
  // data symbol
  const ex = colX[2] + 20, ey = rows[1];
  const le = lg.append("g").attr("stroke", "#000").attr("stroke-width", 1);
  le.append("line").attr("x1", ex).attr("x2", ex).attr("y1", ey - 9).attr("y2", ey + 9);
  le.append("line").attr("x1", ex - 3).attr("x2", ex + 3).attr("y1", ey - 9).attr("y2", ey - 9);
  le.append("line").attr("x1", ex - 3).attr("x2", ex + 3).attr("y1", ey + 9).attr("y2", ey + 9);
  lg.append("path").attr("d", star).attr("transform", `translate(${ex},${ey})`).attr("fill", "#000");
  probe.attr("x", colX[2] + 56).attr("y", ey + 6);
}

for (let i = 0; i < 6; i++) drawPanel(i);
</script>
</body>
</html>
